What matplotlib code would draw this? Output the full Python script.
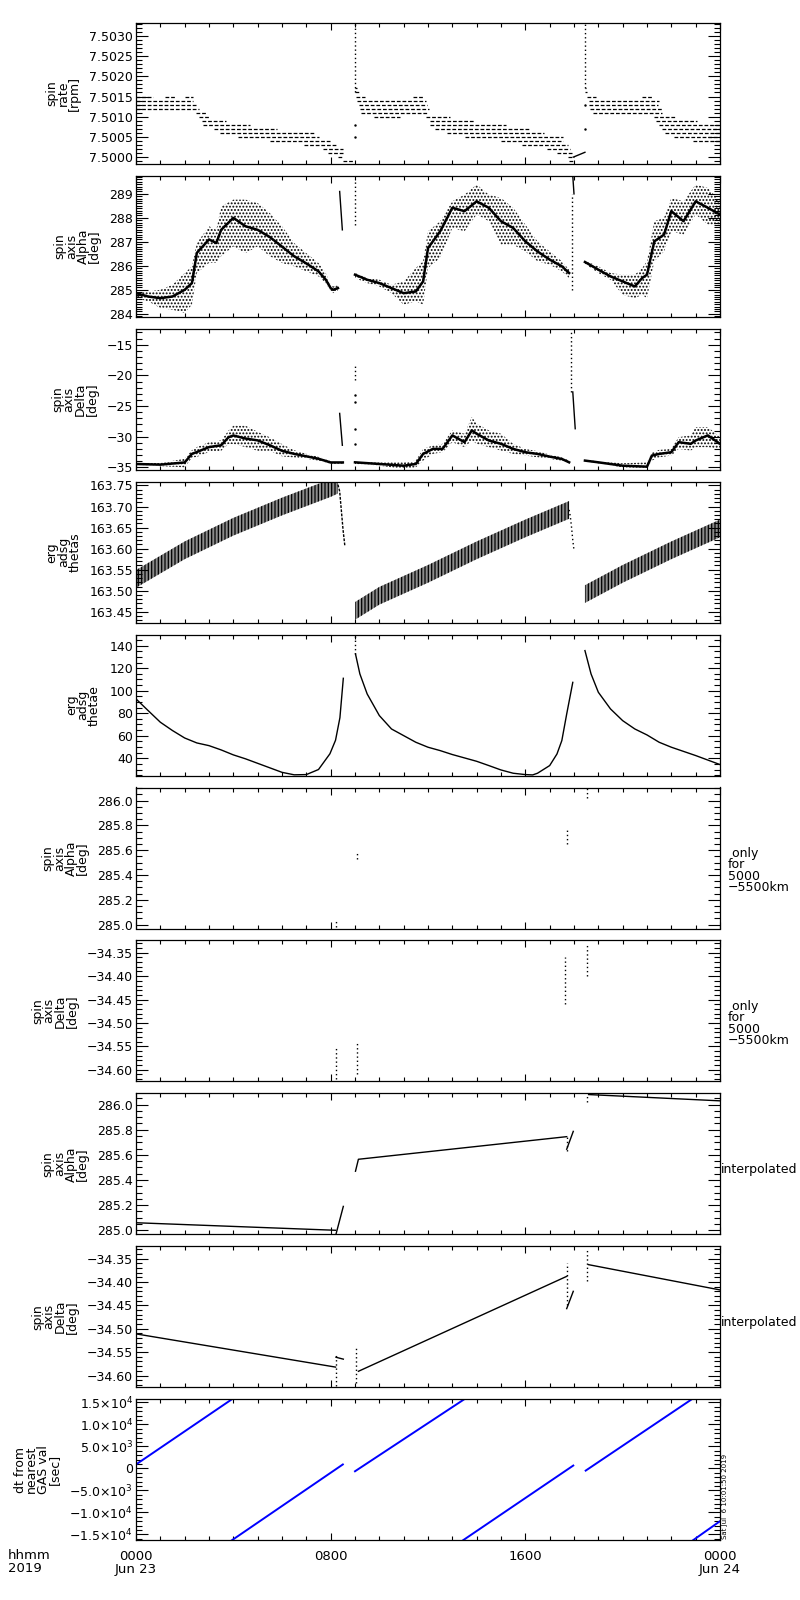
import matplotlib
matplotlib.use("Agg")
import numpy as np
import matplotlib.pyplot as plt
from matplotlib.ticker import MultipleLocator, FuncFormatter

plt.rcParams['font.family'] = ['DejaVu Sans']
plt.rcParams['hatch.linewidth'] = 0.9

MINUS = '\u2212'

# ---------------- panel 1: spin rate steps (level rpm, start h, end h)
rate_lvl = [7.5015, 7.5015, 7.5015, 7.5014, 7.5013, 7.5012, 7.5011, 7.5010, 7.5009, 7.5008,
            7.5007, 7.5006, 7.5005, 7.5004, 7.5003, 7.5002, 7.5001, 7.5000, 7.4999,
            7.5017, 7.5016, 7.5015, 7.5015, 7.5014, 7.5013, 7.5012, 7.5011, 7.5010, 7.5010,
            7.5009, 7.5008, 7.5007, 7.5006, 7.5005, 7.5004, 7.5003, 7.5002, 7.5001, 7.5000, 7.4999,
            7.5017, 7.5016, 7.5015, 7.5015, 7.5014, 7.5013, 7.5012, 7.5011, 7.5010, 7.5009,
            7.5008, 7.5007, 7.5006, 7.5005, 7.5004]
rate_t0 = [0.0, 1.2, 2.0, 0.0, 0.0, 0.0, 2.45, 2.6, 2.7, 2.75,
           3.2, 3.45, 4.2, 5.5, 6.9, 7.7, 7.9, 8.3, 8.5,
           9.0, 9.02, 9.05, 11.4, 9.07, 9.15, 9.2, 9.25, 9.8, 11.9,
           12.1, 12.1, 12.3, 12.8, 13.5, 15.0, 15.85, 16.9, 17.3, 17.75, 17.8,
           18.45, 18.47, 18.55, 20.8, 18.6, 18.6, 18.65, 18.8, 21.3, 21.35,
           21.5, 21.6, 21.75, 22.1, 22.9]
rate_t1 = [0.7, 1.6, 2.35, 2.35, 2.5, 2.6, 2.9, 3.05, 3.7, 4.7,
           5.8, 7.3, 7.5, 8.0, 8.2, 8.5, 8.5, 8.5, 8.95,
           9.08, 9.15, 9.4, 11.8, 11.9, 11.95, 12.05, 11.95, 10.85, 12.9,
           13.9, 15.2, 16.2, 16.75, 17.55, 17.55, 17.75, 17.85, 17.95, 18.0, 17.95,
           18.5, 18.55, 18.9, 21.25, 21.5, 21.45, 21.6, 21.6, 22.2, 23.05,
           24.0, 24.0, 24.0, 24.0, 24.0]
rate_ramp_t = [17.97, 18.45]
rate_ramp_v = [7.50000, 7.50012]
rate_spike_t = [9.0, 18.45]
rate_spike_lo = [7.5016, 7.5017]
rate_pts_t = [9.0, 9.0, 18.45, 18.45]
rate_pts_v = [7.5008, 7.5005, 7.5013, 7.5007]

# ---------------- panel 2: spin axis alpha (center and spread)
al_t1 = [0, 0.5, 1.0, 1.5, 2.0, 2.3, 2.5, 3.0, 3.3, 3.5, 4.0, 4.5, 5.0, 5.5, 6.0, 6.5, 7.0, 7.5, 7.8, 8.0, 8.1, 8.3]
al_c1 = [284.86, 284.72, 284.65, 284.72, 285.0, 285.28, 286.54, 287.1, 286.95, 287.5, 288.0, 287.65,
         287.5, 287.2, 286.8, 286.4, 286.1, 285.77, 285.42, 285.07, 285.0, 285.07]
al_h1 = [285.0, 284.93, 285.0, 285.21, 285.7, 285.98, 286.95, 287.65, 287.5, 288.48, 288.76, 288.76,
         288.62, 288.2, 287.65, 286.95, 286.53, 286.12, 285.7, 285.21, 285.14, 285.21]
al_l1 = [284.65, 284.52, 284.24, 284.17, 284.03, 284.38, 285.7, 286.12, 286.12, 286.4, 286.81, 286.53,
         286.81, 286.4, 286.12, 285.98, 285.77, 285.56, 285.28, 284.93, 284.86, 284.93]
al_t2 = [9.0, 9.5, 10.0, 10.5, 11.0, 11.5, 11.8, 12.0, 12.5, 13.0, 13.5, 14.0, 14.5, 15.0, 15.5, 16.0, 16.5, 17.0, 17.5, 17.8]
al_c2 = [285.63, 285.42, 285.28, 285.07, 284.86, 284.93, 285.35, 286.74, 287.44, 288.42, 288.28, 288.69,
         288.42, 287.86, 287.58, 287.02, 286.6, 286.26, 285.98, 285.70]
al_h2 = [285.70, 285.49, 285.42, 285.21, 285.35, 285.91, 286.19, 287.44, 287.86, 288.69, 288.97, 289.39,
         288.97, 288.83, 288.42, 287.72, 287.02, 286.6, 286.19, 285.84]
al_l2 = [285.49, 285.28, 285.14, 284.86, 284.38, 284.52, 284.38, 285.91, 286.33, 287.58, 287.44, 288.14,
         287.86, 286.88, 286.88, 286.6, 286.19, 286.05, 285.77, 285.49]
al_t3 = [18.45, 19.0, 19.5, 20.0, 20.5, 20.8, 21.0, 21.3, 21.7, 22.0, 22.5, 23.0, 23.5, 24.0]
al_c3 = [286.16, 285.84, 285.56, 285.35, 285.14, 285.49, 285.63, 287.02, 287.30, 288.28, 287.86, 288.69, 288.42, 288.14]
al_h3 = [286.21, 285.98, 285.70, 285.63, 285.63, 285.91, 286.19, 287.86, 288.0, 288.83, 288.69, 289.39, 289.25, 288.69]
al_l3 = [286.08, 285.70, 285.42, 284.79, 284.65, 284.79, 284.65, 286.19, 286.6, 287.44, 287.30, 288.14, 287.72, 287.72]
al_jump_t = [8.37, 8.48, 17.95, 18.0]
al_jump_v = [289.1, 287.5, 289.75, 289.0]
al_spike_t = [9.0, 17.92]
al_spike_lo = [287.7, 285.0]
al_spike_hi = [289.6, 289.0]

# ---------------- panel 3: spin axis delta
de_t1 = [0, 1, 2, 2.3, 2.5, 3.0, 3.5, 3.8, 4.0, 4.5, 5.0, 5.5, 6.0, 6.5, 7.0, 7.5, 8.0, 8.5]
de_c1 = [-34.45, -34.56, -34.2, -32.8, -32.5, -31.7, -31.4, -30.1, -29.8, -30.3, -30.6, -31.4,
         -32.3, -32.8, -33.2, -33.6, -34.2, -34.2]
de_h1 = [-34.3, -34.3, -33.6, -32.2, -31.7, -30.9, -30.6, -29.0, -28.2, -28.2, -29.2, -30.1,
         -31.2, -32.2, -32.8, -33.3, -34.0, -34.0]
de_l1 = [-34.6, -34.8, -35.0, -33.4, -33.3, -32.5, -32.3, -31.2, -31.2, -31.7, -32.3, -32.3,
         -33.2, -33.4, -33.6, -33.9, -34.4, -34.4]
de_t2 = [9.0, 10, 11, 11.5, 11.8, 12.2, 12.6, 13.0, 13.5, 13.8, 14.0, 14.5, 15.0, 15.5, 16.0, 16.5, 17.0, 17.5, 17.8]
de_c2 = [-34.18, -34.45, -34.73, -34.45, -32.81, -31.99, -31.99, -29.79, -30.89, -28.97, -29.52,
         -30.62, -31.16, -31.99, -32.53, -32.81, -33.25, -33.63, -34.18]
de_h2 = [-34.01, -34.18, -34.18, -33.9, -31.99, -31.44, -31.16, -28.97, -29.52, -26.78, -27.88,
         -28.97, -29.52, -31.16, -31.99, -32.37, -32.92, -33.36, -33.9]
de_l2 = [-34.45, -34.73, -35.27, -35.0, -33.9, -32.81, -32.53, -30.89, -31.71, -30.62, -31.16,
         -31.71, -32.26, -32.81, -33.08, -33.36, -33.63, -33.9, -34.34]
de_t3 = [18.45, 19, 20, 21, 21.2, 21.5, 22, 22.3, 22.8, 23, 23.5, 24]
de_c3 = [-33.9, -34.18, -34.73, -34.89, -33.08, -32.81, -32.53, -30.89, -31.16, -30.62, -29.79, -31.16]
de_h3 = [-33.79, -34.01, -34.34, -34.18, -32.53, -32.15, -31.99, -30.07, -29.79, -28.42, -28.42, -30.07]
de_l3 = [-34.01, -34.34, -35.0, -35.27, -33.9, -33.36, -33.08, -31.99, -32.26, -31.71, -31.71, -31.99]
de_jump1_t = [8.37, 8.48]
de_jump1_v = [-26.2, -31.4]
de_jump2_t = [17.95, 18.05]
de_jump2_v = [-22.7, -28.7]
de_spike_t = [9.0, 17.86]
de_spike_lo = [-20.8, -22.7]
de_spike_hi = [-18.3, -12.5]
de_pts_t = [9.0, 9.0, 9.0, 9.0]
de_pts_v = [-23.2, -24.3, -28.7, -31.2]

# ---------------- panel 4: erg adsg thetas (band centre)
ts_t1 = [0, 2, 4, 6, 8, 8.3]
ts_c1 = [163.528, 163.596, 163.652, 163.700, 163.744, 163.752]
ts_t2 = [9.0, 10, 12, 14, 16, 17.8]
ts_c2 = [163.452, 163.488, 163.540, 163.596, 163.648, 163.692]
ts_t3 = [18.45, 20, 22, 24]
ts_c3 = [163.492, 163.540, 163.596, 163.648]
ts_half = 0.021
ts_drop1_t = [8.3, 8.37, 8.44, 8.51, 8.58]
ts_drop1_v = [163.752, 163.736, 163.69, 163.644, 163.608]
ts_drop2_t = [17.8, 17.85, 17.9, 17.95, 18.0]
ts_drop2_v = [163.692, 163.676, 163.65, 163.62, 163.596]

# ---------------- panel 5: erg adsg thetae
te_t1 = [0, 0.5, 1, 1.5, 2, 2.5, 3, 3.5, 4, 4.5, 5, 5.5, 6, 6.5, 7, 7.5, 7.97, 8.2, 8.38, 8.52]
te_v1 = [92.7, 82.3, 72.0, 64.6, 58.0, 53.6, 51.2, 47.4, 43.0, 39.5, 35.5, 31.5, 27.5, 25.3, 25.5,
         30.0, 44.0, 56.0, 76.0, 111.0]
te_t2 = [9.02, 9.2, 9.5, 10, 10.5, 11, 11.5, 12, 12.5, 13, 13.5, 14, 14.5, 15, 15.5, 16, 16.3, 16.5,
         17, 17.3, 17.5, 17.7, 17.95]
te_v2 = [132.6, 114.9, 97.1, 77.9, 66.0, 60.1, 54.2, 49.8, 46.8, 43.3, 40.3, 37.3, 33.5, 29.6, 26.7,
         25.5, 25.2, 26.7, 33.5, 43.8, 55.7, 79.3, 107.4]
te_t3 = [18.45, 18.7, 19, 19.5, 20, 20.5, 21, 21.5, 22, 23, 24]
te_v3 = [135.6, 114.9, 98.6, 83.8, 73.4, 66.0, 60.7, 54.2, 49.8, 42.4, 34.4]
te_spike_t = [9.0]
te_spike_lo = [133.0]
te_spike_hi = [149.5]

# ---------------- panels 6/7: values only for 5000-5500 km (time, low, high)
ak_t = [8.2, 9.1, 17.7, 18.55]
ak_lo = [284.98, 285.53, 285.65, 286.02]
ak_hi = [285.03, 285.58, 285.78, 286.10]
dk_t = [8.2, 9.1, 17.65, 18.55]
dk_lo = [-34.62, -34.61, -34.46, -34.40]
dk_hi = [-34.55, -34.54, -34.36, -34.33]

# ---------------- panel 8: interpolated alpha (segments)
ai_segs = [([0.0, 8.2], [285.06, 285.00]),
           ([8.22, 8.52], [284.97, 285.19]),
           ([9.02, 9.14, 17.70], [285.47, 285.565, 285.745]),
           ([17.70, 17.97], [285.645, 285.787]),
           ([18.6, 24.0], [286.08, 286.03])]
ai_dot_t = [17.70, 18.55]
ai_dot_lo = [285.63, 286.02]
ai_dot_hi = [285.745, 286.07]

# ---------------- panel 9: interpolated delta (segments)
di_segs = [([0.0, 8.2], [-34.511, -34.582]),
           ([8.22, 8.52], [-34.561, -34.565]),
           ([9.14, 17.70], [-34.591, -34.388]),
           ([17.70, 17.97], [-34.457, -34.420]),
           ([18.6, 24.0], [-34.363, -34.417])]
di_dot_t = [8.2, 9.05, 17.70, 18.55]
di_dot_lo = [-34.623, -34.616, -34.45, -34.397]
di_dot_hi = [-34.551, -34.54, -34.36, -34.328]

# ---------------- panel 10: dt from nearest GAS val (sec), line segments
dt_t0 = [0.0, 3.95, 9.0, 13.45, 18.48, 22.9]
dt_v0 = [900, -16300, -650, -16300, -500, -16300]
dt_t1 = [3.95, 8.5, 13.5, 17.97, 22.85, 24.0]
dt_v1 = [15760, 900, 15760, 650, 15760, -12000]

ylabels = ["spin\nrate\n[rpm]", "spin\naxis\nAlpha\n[deg]", "spin\naxis\nDelta\n[deg]",
           "erg\nadsg\nthetas", "erg\nadsg\nthetae", "spin\naxis\nAlpha\n[deg]",
           "spin\naxis\nDelta\n[deg]", "spin\naxis\nAlpha\n[deg]", "spin\naxis\nDelta\n[deg]",
           "dt from\nnearest\nGAS val\n[sec]"]
xticklabels = ["0000\nJun 23", "0800", "1600", "0000\nJun 24"]


def fmt(nd):
    return FuncFormatter(lambda v, p: f"{v:.{nd}f}".replace('-', MINUS))


def sci(v, p):
    if abs(v) < 1e-6:
        return "0"
    e = int(np.floor(np.log10(abs(v)) + 1e-9))
    m = abs(v) / 10 ** e
    s = f"{m:.1f}" + r"$\times$10$^{%d}$" % e
    return (MINUS if v < 0 else "") + s


ylims = [(7.49983, 7.50332), (283.87, 289.75), (-35.4, -12.4), (163.424, 163.759), (24.6, 149.8),
         (284.968, 286.105), (-34.625, -34.3235), (284.968, 286.09), (-34.625, -34.3235), (-16300, 15760)]
majors = [0.0005, 1, 5, 0.05, 20, 0.2, 0.05, 0.2, 0.05, 5000]
minors = [0.0001, 0.1, 1, 0.01, 5, 0.05, 0.01, 0.05, 0.01, 1000]
formatters = [fmt(4), fmt(0), fmt(0), fmt(2), fmt(0), fmt(1), fmt(2), fmt(1), fmt(2), FuncFormatter(sci)]

fig = plt.figure(figsize=(8, 16), dpi=100)
axes = []
for i in range(10):
    top = 23 + 152.9 * i
    ax = fig.add_axes([136 / 800, 1 - (top + 141) / 1600, 584 / 800, 141 / 1600])
    ax.set_xlim(0, 24)
    ax.set_ylim(*ylims[i])
    ax.xaxis.set_major_locator(MultipleLocator(8))
    ax.xaxis.set_minor_locator(MultipleLocator(1))
    ax.yaxis.set_major_locator(MultipleLocator(majors[i]))
    ax.yaxis.set_minor_locator(MultipleLocator(minors[i]))
    ax.yaxis.set_major_formatter(formatters[i])
    ax.tick_params(which='both', direction='in', top=True, right=True, width=0.8,
                   labelsize=9, pad=2, labelbottom=False)
    ax.tick_params(axis='y', which='major', length=8.5)
    ax.tick_params(axis='y', which='minor', length=4.3)
    ax.tick_params(axis='x', which='major', length=5)
    ax.tick_params(axis='x', which='minor', length=3)
    for sp in ax.spines.values():
        sp.set_linewidth(0.9)
    ax.set_ylabel(ylabels[i], fontsize=9, linespacing=0.85, labelpad=6)
    axes.append(ax)

dot = (0, (1, 2))
lw = 1.0

# panel 1
ax = axes[0]
ax.hlines(rate_lvl, rate_t0, rate_t1, colors='k', linewidth=0.9, linestyles=(0, (3, 1.5)))
ax.plot(rate_ramp_t, rate_ramp_v, color='k', lw=lw)
ax.vlines(rate_spike_t, rate_spike_lo, 7.5034, colors='k', linewidth=1, linestyles=dot)
ax.plot(rate_pts_t, rate_pts_v, 'k.', ms=1.5)

# panel 2 and 3: scattered bands
for ax, arcs in [(axes[1], [(al_t1, al_c1, al_h1, al_l1), (al_t2, al_c2, al_h2, al_l2),
                            (al_t3, al_c3, al_h3, al_l3)]),
                 (axes[2], [(de_t1, de_c1, de_h1, de_l1), (de_t2, de_c2, de_h2, de_l2),
                            (de_t3, de_c3, de_h3, de_l3)])]:
    for t, c, h, l in arcs:
        ax.fill_between(t, l, h, facecolor='none', edgecolor='k', hatch='.....', linewidth=0)
        ax.plot(t, c, color='k', lw=1.8)
ax = axes[1]
ax.plot(al_jump_t[:2], al_jump_v[:2], color='k', lw=lw)
ax.plot(al_jump_t[2:], al_jump_v[2:], color='k', lw=lw)
ax.vlines(al_spike_t, al_spike_lo, al_spike_hi, colors='k', linewidth=1, linestyles=dot)
ax = axes[2]
ax.plot(de_jump1_t, de_jump1_v, color='k', lw=lw)
ax.plot(de_jump2_t, de_jump2_v, color='k', lw=lw)
ax.vlines(de_spike_t, de_spike_lo, de_spike_hi, colors='k', linewidth=1, linestyles=dot)
ax.plot(de_pts_t, de_pts_v, 'k.', ms=1.5)

# panel 4
ax = axes[3]
for t, c in [(ts_t1, ts_c1), (ts_t2, ts_c2), (ts_t3, ts_c3)]:
    c = np.array(c)
    ax.fill_between(t, c - ts_half, c + ts_half, facecolor='0.55', edgecolor='k',
                    hatch='|||||', linewidth=0)
ax.plot(ts_drop1_t, ts_drop1_v, color='k', lw=1, ls=(0, (2, 1)))
ax.plot(ts_drop2_t, ts_drop2_v, color='k', lw=1, ls=dot)

# panel 5
ax = axes[4]
for t, v in [(te_t1, te_v1), (te_t2, te_v2), (te_t3, te_v3)]:
    ax.plot(t, v, color='k', lw=lw)
ax.vlines(te_spike_t, te_spike_lo, te_spike_hi, colors='k', linewidth=1, linestyles=dot)

# panel 6 / 7
axes[5].vlines(ak_t, ak_lo, ak_hi, colors='k', linewidth=1, linestyles=dot)
axes[6].vlines(dk_t, dk_lo, dk_hi, colors='k', linewidth=1, linestyles=dot)

# panel 8 / 9
for t, v in ai_segs:
    axes[7].plot(t, v, color='k', lw=lw)
axes[7].vlines(ai_dot_t, ai_dot_lo, ai_dot_hi, colors='k', linewidth=1, linestyles=dot)
for t, v in di_segs:
    axes[8].plot(t, v, color='k', lw=lw)
axes[8].vlines(di_dot_t, di_dot_lo, di_dot_hi, colors='k', linewidth=1, linestyles=dot)

# panel 10
ax = axes[9]
for a, b, c, d in zip(dt_t0, dt_v0, dt_t1, dt_v1):
    ax.plot([a, c], [b, d], color='#0000ff', lw=1.4)
ax.set_xticks([0, 8, 16, 24])
ax.set_xticklabels(xticklabels, fontsize=9.5, linespacing=1.0)
ax.tick_params(axis='x', labelbottom=True, pad=7)

# side notes
for i in (5, 6):
    axes[i].text(1.013, 0.41, " only\nfor\n5000\n" + MINUS + "5500km", transform=axes[i].transAxes,
                 fontsize=9, ha='left', va='center', linespacing=0.85)
for i in (7, 8):
    axes[i].text(1.002, 0.46, "interpolated", transform=axes[i].transAxes,
                 fontsize=9, ha='left', va='center')

fig.text(8 / 800, 1 - 1549 / 1600, "hhmm\n2019", fontsize=9.5, ha='left', va='top', linespacing=1.0)
fig.text(722 / 800, 1 - 1539 / 1600, "Sat Jul  6 10:01:50 2019", rotation=90, fontsize=5,
         ha='left', va='bottom')

fig.savefig("out.png", dpi=100, facecolor='white')
